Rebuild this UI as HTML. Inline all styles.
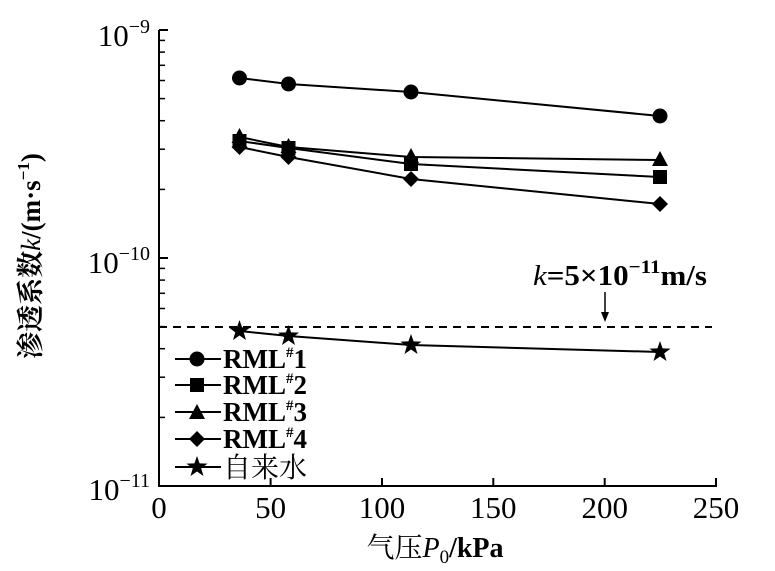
<!DOCTYPE html>
<html><head><meta charset="utf-8"><style>
body{margin:0;background:#fff;}
svg text{font-family:"Liberation Serif","Noto Serif CJK SC",serif;fill:#000;}
</style></head><body>
<svg width="775" height="566" viewBox="0 0 775 566" xmlns="http://www.w3.org/2000/svg">
<defs>
<circle id="mc" r="7.5"/>
<rect id="ms" x="-7" y="-7" width="14" height="14"/>
<polygon id="mt" points="0,-9 8,6 -8,6"/>
<polygon id="md" points="0,-8 8,0 0,8 -8,0"/>
<polygon id="mst" points="0,-11 2.6,-3.6 10.5,-3.4 4.2,1.4 6.5,9 0,4.5 -6.5,9 -4.2,1.4 -10.5,-3.4 -2.6,-3.6"/>
</defs>
<g stroke="#000" stroke-width="2" fill="none">
<line x1="159" y1="30" x2="159" y2="487"/>
<line x1="158" y1="486" x2="717" y2="486"/>
<line x1="270.6" y1="486" x2="270.6" y2="478"/>
<line x1="382" y1="486" x2="382" y2="478"/>
<line x1="493.3" y1="486" x2="493.3" y2="478"/>
<line x1="604.7" y1="486" x2="604.7" y2="478"/>
<line x1="716" y1="486" x2="716" y2="478"/>
<line x1="159" y1="30" x2="168" y2="30"/>
<line x1="159" y1="258" x2="168" y2="258"/>
</g>
<g stroke="#000" stroke-width="1.5">
<line x1="159" x2="165" y1="189.4" y2="189.4"/><line x1="159" x2="165" y1="149.2" y2="149.2"/>
<line x1="159" x2="165" y1="120.7" y2="120.7"/><line x1="159" x2="165" y1="98.6" y2="98.6"/>
<line x1="159" x2="165" y1="80.5" y2="80.5"/><line x1="159" x2="165" y1="65.3" y2="65.3"/>
<line x1="159" x2="165" y1="52.1" y2="52.1"/><line x1="159" x2="165" y1="40.4" y2="40.4"/>
<line x1="159" x2="165" y1="417.4" y2="417.4"/><line x1="159" x2="165" y1="377.2" y2="377.2"/>
<line x1="159" x2="165" y1="348.7" y2="348.7"/><line x1="159" x2="165" y1="326.6" y2="326.6"/>
<line x1="159" x2="165" y1="308.5" y2="308.5"/><line x1="159" x2="165" y1="293.3" y2="293.3"/>
<line x1="159" x2="165" y1="280.1" y2="280.1"/><line x1="159" x2="165" y1="268.4" y2="268.4"/>
</g>
<line x1="159" y1="327" x2="712" y2="327" stroke="#000" stroke-width="2" stroke-dasharray="8,6"/>
<line x1="605" y1="292" x2="605" y2="314" stroke="#000" stroke-width="1.5"/>
<polygon points="601,312 609,312 605,322" fill="#000"/>
<text x="533" y="285" font-size="28" font-weight="bold" textLength="174" lengthAdjust="spacingAndGlyphs"><tspan font-style="italic" font-weight="normal">k</tspan>=5×10<tspan font-size="19" dy="-12">−11</tspan><tspan dy="12">m/s</tspan></text>
<g stroke="#000" stroke-width="2" fill="none">
<polyline points="239.5,78 288.5,84 411,92 660,116"/>
<polyline points="239.5,141 288.5,148 411,164 660,177"/>
<polyline points="239.5,137 288.5,147 411,157 660,160"/>
<polyline points="239.5,147 288.5,157 411,179 660,204"/>
<polyline points="239.5,331 288.5,336 411,345 660,352"/>
</g>
<g fill="#000">
<use href="#mc" x="239.5" y="78"/><use href="#mc" x="288.5" y="84"/><use href="#mc" x="411" y="92"/><use href="#mc" x="660" y="116"/>
<use href="#ms" x="239.5" y="141"/><use href="#ms" x="288.5" y="148"/><use href="#ms" x="411" y="164"/><use href="#ms" x="660" y="177"/>
<use href="#mt" x="239.5" y="137"/><use href="#mt" x="288.5" y="147"/><use href="#mt" x="411" y="157"/><use href="#mt" x="660" y="160"/>
<use href="#md" x="239.5" y="147"/><use href="#md" x="288.5" y="157"/><use href="#md" x="411" y="179"/><use href="#md" x="660" y="204"/>
<use href="#mst" x="239.5" y="331"/><use href="#mst" x="288.5" y="336"/><use href="#mst" x="411" y="345"/><use href="#mst" x="660" y="352"/>
</g>
<g stroke="#000" stroke-width="2">
<line x1="175" x2="221" y1="359" y2="359"/><line x1="175" x2="221" y1="385" y2="385"/>
<line x1="175" x2="221" y1="412" y2="412"/><line x1="175" x2="221" y1="439" y2="439"/>
<line x1="175" x2="221" y1="467" y2="467"/>
</g>
<g fill="#000">
<use href="#mc" x="197" y="359"/><use href="#ms" x="197" y="385"/><use href="#mt" x="197" y="413"/><use href="#md" x="197" y="439"/><use href="#mst" x="197" y="467"/>
</g>
<g font-size="27" font-weight="bold">
<text x="223" y="368">RML<tspan font-size="15" dy="-11">#</tspan><tspan dy="11">1</tspan></text>
<text x="223" y="394">RML<tspan font-size="15" dy="-11">#</tspan><tspan dy="11">2</tspan></text>
<text x="223" y="421">RML<tspan font-size="15" dy="-11">#</tspan><tspan dy="11">3</tspan></text>
<text x="223" y="448">RML<tspan font-size="15" dy="-11">#</tspan><tspan dy="11">4</tspan></text>
<text x="223" y="477" font-weight="normal" font-size="28">自来水</text>
</g>
<g font-size="31" text-anchor="middle">
<text x="159" y="518">0</text><text x="270.6" y="518">50</text><text x="382" y="518">100</text>
<text x="493.3" y="518">150</text><text x="604.7" y="518">200</text><text x="716" y="518">250</text>
</g>
<g font-size="31" text-anchor="end">
<text x="150" y="46">10<tspan font-size="20" dy="-13">−9</tspan></text>
<text x="150" y="273">10<tspan font-size="20" dy="-13">−10</tspan></text>
<text x="150" y="500">10<tspan font-size="20" dy="-13">−11</tspan></text>
</g>
<text x="435" y="557" font-size="28" text-anchor="middle">气压<tspan font-style="italic">P</tspan><tspan font-size="19" dy="6">0</tspan><tspan dy="-6" font-weight="bold">/kPa</tspan></text>
<text transform="translate(40,256) rotate(-90)" font-size="27" text-anchor="middle" font-weight="bold">渗透系数<tspan font-style="italic" font-weight="normal">k</tspan>/(m·s<tspan font-size="17" dy="-11">−1</tspan><tspan dy="11">)</tspan></text>
</svg>
</body></html>
